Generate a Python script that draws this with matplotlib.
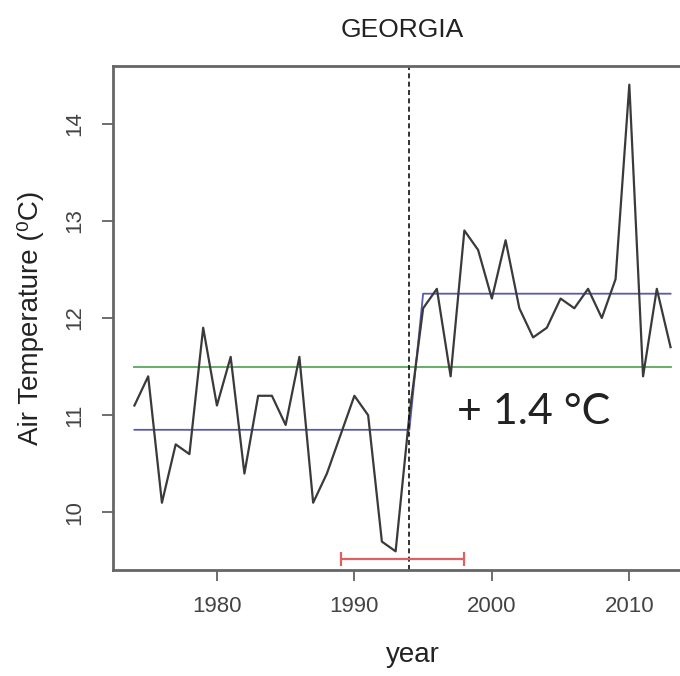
"""Georgia air temperature series with change-point step fit."""

import matplotlib

matplotlib.use("Agg")
import matplotlib.pyplot as plt  # noqa: E402

years = list(range(1974, 2014))
temps = [
    11.1, 11.4, 10.1, 10.7, 10.6, 11.9, 11.1, 11.6, 10.4, 11.2,
    11.2, 10.9, 11.6, 10.1, 10.4, 10.8, 11.2, 11.0, 9.7, 9.6,
    11.0, 12.1, 12.3, 11.4, 12.9, 12.7, 12.2, 12.8, 12.1, 11.8,
    11.9, 12.2, 12.1, 12.3, 12.0, 12.4, 14.4, 11.4, 12.3, 11.7,
]
overall_mean = 11.5
mean_before = 10.85
mean_after = 12.25
break_year = 1994
ci_years = [1989, 1998]
ci_level = 9.52
xticks = [1980, 1990, 2000, 2010]
yticks = [10, 11, 12, 13, 14]

NARROW = ["Liberation Sans Narrow", "Liberation Sans", "DejaVu Sans"]

fig = plt.figure(figsize=(6.8, 6.76), dpi=100)
ax = fig.add_axes([113 / 680, 1 - 570 / 676, (692 - 113) / 680, (570 - 66) / 676])

ax.plot([years[0], years[-1]], [overall_mean, overall_mean], color="#5aa85a", lw=1.3)
step_x = [years[0], break_year, break_year + 1, years[-1]]
step_y = [mean_before, mean_before, mean_after, mean_after]
ax.plot(step_x, step_y, color="#5a5aa8", lw=1.3)
ax.plot(years, temps, color="#3a3a3a", lw=1.6)
ax.axvline(break_year, color="#111111", lw=1.2, linestyle=(0, (3, 2)))

ci_mid = (ci_years[0] + ci_years[1]) / 2
ci_half = (ci_years[1] - ci_years[0]) / 2
ax.errorbar([ci_mid], [ci_level], xerr=[[ci_half], [ci_half]], fmt="none",
            ecolor="#e06060", elinewidth=1.6, capsize=5, capthick=1.6)

ax.text(1997.45, 10.907, "+ 1.4 °C", fontsize=31, family=["Lato", "DejaVu Sans"],
        color="#222222", ha="left", va="baseline")

ax.set_xlim(1972.44, 2014.56)
ax.set_ylim(9.408, 14.592)
ax.set_xticks(xticks)
ax.set_xticklabels([str(t) for t in xticks], family=NARROW, fontsize=16, color="#444444")
ax.set_yticks(yticks)
ax.set_yticklabels([str(t) for t in yticks], family=NARROW, fontsize=16, color="#444444",
                   rotation=90, va="center")
ax.tick_params(axis="x", length=8, width=1.2, color="#555555", pad=11)
ax.tick_params(axis="y", length=8, width=1.2, color="#555555", pad=12)
for side in ["left", "right", "top", "bottom"]:
    ax.spines[side].set_color("#666666")
    ax.spines[side].set_linewidth(2)

ax.set_title("GEORGIA", family=NARROW, fontsize=19, color="#222222", pad=21)
fig.text(413 / 680, 1 - 662 / 676, "year", family=NARROW, fontsize=20,
         color="#222222", ha="center", va="baseline")
fig.text(30 / 680, 1 - 318 / 676, "Air Temperature (⁰C)", family=["Liberation Sans", "DejaVu Sans"],
         fontsize=20, color="#222222", rotation=90, ha="center", va="center")

fig.savefig("out.png", dpi=100)
